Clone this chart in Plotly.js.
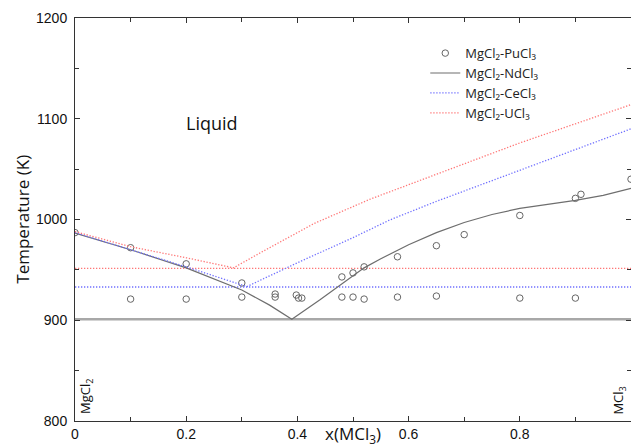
<!DOCTYPE html>
<html>
<head>
<meta charset="utf-8">
<script src="https://cdn.plot.ly/plotly-3.0.1.min.js"></script>
<style>html,body{margin:0;padding:0;background:#fff;}#chart{width:631px;height:445px;}</style>
</head>
<body>
<div id="chart"></div>
<script>
// MgCl2-PuCl3 experimental points
const puX = [0, 0.1, 0.1, 0.2, 0.2, 0.3, 0.3, 0.36, 0.36, 0.398, 0.402, 0.408, 0.48, 0.48, 0.50, 0.50, 0.52, 0.52, 0.58, 0.58, 0.65, 0.65, 0.70, 0.80, 0.80, 0.90, 0.90, 0.91, 1.0];
const puT = [987, 972, 921, 956, 921, 937, 923, 926, 923, 925, 922, 922, 943, 923, 947, 923, 953, 921, 963, 923, 974, 924, 985, 1004, 922, 922, 1021, 1025, 1040];
// MgCl2-NdCl3 liquidus
const ndX = [0, 0.1, 0.2, 0.3, 0.35, 0.39, 0.44, 0.48, 0.52, 0.55, 0.58, 0.6, 0.65, 0.7, 0.75, 0.8, 0.85, 0.9, 0.95, 1.0];
const ndT = [986.5, 970, 952, 930, 915, 901, 920, 936, 952, 961, 969, 975, 987, 997, 1005, 1011, 1015, 1019, 1024, 1031];
const ndEutX = [0, 1];
const ndEutT = [901, 901];
// MgCl2-CeCl3 liquidus
const ceX = [0, 0.1, 0.2, 0.309, 0.4, 0.5, 0.566, 0.65, 0.73, 0.8, 0.9, 1.0];
const ceT = [987, 970, 953, 933.4, 957, 982, 999.5, 1018, 1034.5, 1049, 1069, 1090];
const ceEutX = [0, 1];
const ceEutT = [933, 933];
// MgCl2-UCl3 liquidus
const uX = [0, 0.1, 0.2, 0.285, 0.34, 0.43, 0.53, 0.63, 0.73, 0.8, 0.9, 1.0];
const uT = [988, 973, 962, 952, 969, 996, 1020, 1041, 1062, 1076, 1095, 1114];
const uEutX = [0, 1];
const uEutT = [951.5, 951.5];
// axis ticks
const xTicks = [0, 0.2, 0.4, 0.6, 0.8, 1.0];
const xTickText = ['0', '0.2', '0.4', '0.6', '0.8', '1.0'];
const yTicks = [800, 900, 1000, 1100, 1200];

const labelFont = 'Open Sans, sans-serif';
const tickFont = {family: 'Liberation Sans, Arial, sans-serif', size: 14, color: '#111'};
const blue = '#7070ff', red = '#ff7676';
const dotted = '1.3px,1.7px';

const traces = [
  {x: ndEutX, y: ndEutT, mode: 'lines', line: {color: '#a8a8a8', width: 2.5}, showlegend: false, hoverinfo: 'skip'},
  {x: ceEutX, y: ceEutT, mode: 'lines', line: {color: blue, width: 1.3, dash: dotted}, showlegend: false, hoverinfo: 'skip'},
  {x: uEutX, y: uEutT, mode: 'lines', line: {color: red, width: 1.3, dash: dotted}, showlegend: false, hoverinfo: 'skip'},
  {x: puX, y: puT, mode: 'markers', name: 'MgCl₂-PuCl₃',
   marker: {symbol: 'circle-open', size: 6.5, color: '#666', line: {width: 1, color: '#666'}}},
  {x: ndX, y: ndT, mode: 'lines', name: 'MgCl₂-NdCl₃', line: {color: '#6e6e6e', width: 1.2}},
  {x: ceX, y: ceT, mode: 'lines', name: 'MgCl₂-CeCl₃', line: {color: blue, width: 1.3, dash: dotted}},
  {x: uX, y: uT, mode: 'lines', name: 'MgCl₂-UCl₃', line: {color: red, width: 1.3, dash: dotted}}
];

const layout = {
  width: 631, height: 445,
  margin: {l: 75, r: 0, t: 18, b: 24, pad: 0},
  paper_bgcolor: '#fff', plot_bgcolor: '#fff',
  showlegend: true,
  legend: {x: 0.63, y: 0.95, xanchor: 'left', yanchor: 'top', bgcolor: 'rgba(0,0,0,0)',
           font: {family: labelFont, size: 13, color: '#222'}, tracegroupgap: 0, itemwidth: 30},
  xaxis: {range: [0, 1], tickvals: xTicks, ticktext: xTickText, ticks: 'inside', ticklen: 5, tickcolor: '#333',
          showline: true, linecolor: '#333', linewidth: 1, mirror: 'allticks', showgrid: false, zeroline: false,
          tickfont: tickFont,
          minor: {dtick: 0.1, ticks: 'inside', ticklen: 4, tickcolor: '#333', showgrid: false}},
  yaxis: {range: [800, 1200], tickvals: yTicks, ticks: 'inside', ticklen: 5, tickcolor: '#333',
          showline: true, linecolor: '#333', linewidth: 1, mirror: 'allticks', showgrid: false, zeroline: false,
          tickfont: tickFont, ticklabelstandoff: 4,
          minor: {dtick: 50, ticks: 'inside', ticklen: 4, tickcolor: '#333', showgrid: false}},
  annotations: [
    {text: 'Liquid', x: 0.2464, y: 1096, xref: 'x', yref: 'y', showarrow: false, xanchor: 'center', yanchor: 'middle',
     font: {family: labelFont, size: 18, color: '#111'}},
    {text: 'Temperature (K)', x: -0.095, y: 0.5, xref: 'paper', yref: 'paper', showarrow: false, textangle: -90,
     xanchor: 'center', yanchor: 'middle',
     font: {family: labelFont, size: 17, color: '#111'}},
    {text: 'x(MCl<sub>3</sub>)', x: 0.5, y: -0.034, xref: 'x', yref: 'paper', showarrow: false,
     xanchor: 'center', yanchor: 'middle',
     font: {family: labelFont, size: 17, color: '#111'}},
    {text: 'MgCl<sub>2</sub>', x: 0.02, y: 824, xref: 'x', yref: 'y', showarrow: false, textangle: -90,
     xanchor: 'center', yanchor: 'middle',
     font: {family: labelFont, size: 13, color: '#111'}},
    {text: 'MCl<sub>3</sub>', x: 0.978, y: 820, xref: 'x', yref: 'y', showarrow: false, textangle: -90,
     xanchor: 'center', yanchor: 'middle',
     font: {family: labelFont, size: 13, color: '#111'}}
  ]
};

Plotly.newPlot('chart', traces, layout, {displayModeBar: false, staticPlot: true});
</script>
</body>
</html>
